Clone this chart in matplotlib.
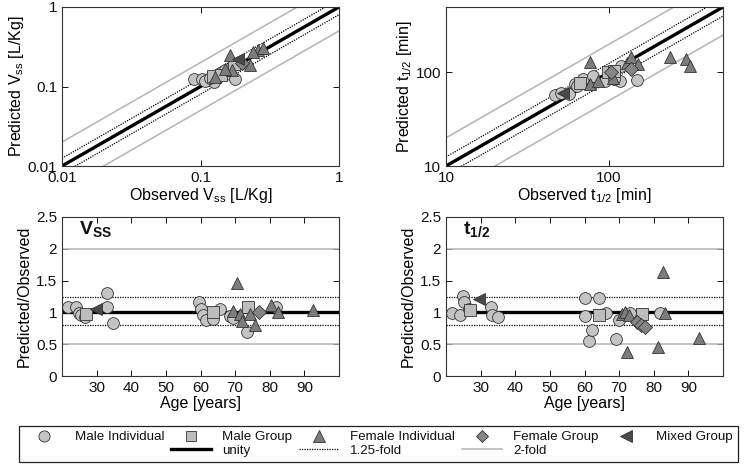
import numpy as np
import matplotlib.pyplot as plt
from matplotlib.lines import Line2D

plt.rcParams['font.family'] = ['Liberation Sans', 'DejaVu Sans']
plt.rcParams['mathtext.default'] = 'regular'
plt.rcParams['text.color'] = '#111111'

# ---- observed vs predicted, Vss [L/Kg] ----
vss_mi_obs = [0.090, 0.102, 0.114, 0.123, 0.134, 0.138, 0.163, 0.178, 0.125, 0.108, 0.118, 0.150]
vss_mi_pred = [0.123, 0.123, 0.120, 0.130, 0.132, 0.150, 0.145, 0.123, 0.115, 0.118, 0.127, 0.160]
vss_mg_obs = [0.123, 0.140, 0.175]
vss_mg_pred = [0.135, 0.140, 0.190]
vss_fi_obs = [0.128, 0.163, 0.168, 0.228, 0.261, 0.284, 0.240, 0.150]
vss_fi_pred = [0.133, 0.249, 0.161, 0.186, 0.288, 0.304, 0.270, 0.167]
vss_fg_obs = [0.198]
vss_fg_pred = [0.195]
vss_mx_obs = [0.187]
vss_mx_pred = [0.220]

# ---- observed vs predicted, t1/2 [min] ----
t12_mi_obs = [46.5, 51, 57, 62, 69, 94, 116, 119, 148, 64, 80, 108]
t12_mi_pred = [58, 61, 59, 75, 85, 81, 81, 118, 84, 72, 92, 85]
t12_mg_obs = [66, 98, 108]
t12_mg_pred = [78, 100, 104]
t12_fi_obs = [76, 76, 86, 106, 128, 137, 151, 235, 297, 312]
t12_fi_pred = [128, 75, 81, 88, 125, 145, 123, 145, 138, 118]
t12_fg_obs = [103, 137]
t12_fg_pred = [100, 108]
t12_mx_obs = [52]
t12_mx_pred = [61]

# ---- predicted/observed ratio vs age ----
vss_mi_age = [21.8, 23.9, 24.8, 25.6, 26.5, 32.9, 33.0, 34.8, 59.6, 60.0, 60.7, 61.6, 63.7, 65.7, 68.6, 69.5, 73.4, 81.9]
vss_mi_rat = [1.09, 1.08, 0.99, 0.96, 0.93, 1.31, 1.08, 0.83, 1.17, 1.05, 0.96, 0.88, 0.89, 1.06, 0.94, 0.91, 0.69, 1.09]
vss_mg_age = [26.9, 63.7, 73.6]
vss_mg_rat = [0.97, 1.00, 1.09]
vss_fi_age = [69.3, 70.5, 71.5, 71.9, 74.3, 75.6, 80.4, 82.4, 92.5]
vss_fi_rat = [1.02, 1.47, 0.97, 0.86, 0.97, 0.80, 1.12, 1.01, 1.04]
vss_fg_age = [76.8]
vss_fg_rat = [1.01]
vss_mx_age = [29.8]
vss_mx_rat = [1.05]

t12_mi_age = [21.8, 24.0, 25.0, 25.2, 26.5, 33.0, 33.2, 35.1, 60.0, 60.0, 61.2, 62.1, 64.1, 66.3, 69.1, 70.1, 73.0, 81.9]
t12_mi_rat = [0.99, 0.96, 1.26, 1.16, 1.05, 1.09, 0.96, 0.93, 1.22, 0.94, 0.55, 0.73, 1.22, 0.99, 0.58, 0.88, 0.99, 0.99]
t12_mg_age = [27.0, 64.1, 76.7]
t12_mg_rat = [1.03, 0.96, 0.97]
t12_fi_age = [70.8, 71.8, 72.8, 72.3, 81.2, 82.6, 83.2, 93.2]
t12_fi_rat = [0.98, 1.01, 0.96, 0.38, 0.46, 1.63, 0.99, 0.59]
t12_fg_age = [75.2, 76.2, 77.4]
t12_fg_rat = [0.85, 0.80, 0.77]
t12_mx_age = [29.6]
t12_mx_rat = [1.21]

groups = ['Male Individual', 'Male Group', 'Female Individual', 'Female Group', 'Mixed Group']
markers = ['o', 's', '^', 'D', '<']
fills = ['#c4c4c4', '#bdbdbd', '#7c7c7c', '#858585', '#4a4a4a']
sizes = [8.5, 8, 9, 7, 9]
folds = [1.0, 1.25, 2.0]
edge = '#333333'


def style(ax):
    ax.tick_params(direction='in', top=True, right=True, length=4, width=0.7,
                   labelsize=11, colors='#111111', which='major')
    ax.tick_params(which='minor', length=0)
    for s in ax.spines.values():
        s.set_linewidth(0.8)
        s.set_color('#333333')


def pts(ax, xs, ys):
    for i in range(5):
        ax.plot(xs[i], ys[i], linestyle='none', marker=markers[i], ms=sizes[i],
                mfc=fills[i], mec=edge, mew=0.6)


def fold_lines(ax, lo, hi):
    x = np.array([lo, hi])
    ax.plot(x, x * folds[2], color='#b4b4b4', lw=1.1)
    ax.plot(x, x / folds[2], color='#b4b4b4', lw=1.1)
    ax.plot(x, x * folds[1], color='black', lw=0.9, ls=(0, (1, 1)))
    ax.plot(x, x / folds[1], color='black', lw=0.9, ls=(0, (1, 1)))
    ax.plot(x, x * folds[0], color='black', lw=2.4)


def ratio_lines(ax):
    for v in [folds[2], 1 / folds[2]]:
        ax.axhline(v, color='#b4b4b4', lw=1.1)
    for v in [folds[1], 1 / folds[1]]:
        ax.axhline(v, color='black', lw=0.9, ls=(0, (1, 1)))
    ax.axhline(folds[0], color='black', lw=2.4)


fig = plt.figure(figsize=(7.5, 4.67), dpi=100)
W, H = 277 / 750, 159 / 467
ax1 = fig.add_axes([62 / 750, 1 - 166 / 467, W, H])
ax2 = fig.add_axes([446 / 750, 1 - 166 / 467, W, H])
ax3 = fig.add_axes([62 / 750, 1 - 376 / 467, W, H])
ax4 = fig.add_axes([446 / 750, 1 - 376 / 467, W, H])

# top left
fold_lines(ax1, 0.01, 1)
pts(ax1, [vss_mi_obs, vss_mg_obs, vss_fi_obs, vss_fg_obs, vss_mx_obs],
    [vss_mi_pred, vss_mg_pred, vss_fi_pred, vss_fg_pred, vss_mx_pred])
ax1.set_xscale('log')
ax1.set_yscale('log')
ax1.set_xlim(0.01, 1)
ax1.set_ylim(0.01, 1)
ax1.set_xticks([0.01, 0.1, 1], ['0.01', '0.1', '1'])
ax1.set_yticks([0.01, 0.1, 1], ['0.01', '0.1', '1'])
ax1.set_xlabel('Observed V$_{ss}$ [L/Kg]', fontsize=11.5, labelpad=1)
ax1.set_ylabel('Predicted V$_{ss}$ [L/Kg]', fontsize=11.5, labelpad=1)
style(ax1)

# top right
fold_lines(ax2, 10, 500)
pts(ax2, [t12_mi_obs, t12_mg_obs, t12_fi_obs, t12_fg_obs, t12_mx_obs],
    [t12_mi_pred, t12_mg_pred, t12_fi_pred, t12_fg_pred, t12_mx_pred])
ax2.set_xscale('log')
ax2.set_yscale('log')
ax2.set_xlim(10, 500)
ax2.set_ylim(10, 500)
ax2.set_xticks([10, 100], ['10', '100'])
ax2.set_yticks([10, 100], ['10', '100'])
ax2.set_xlabel('Observed t$_{1/2}$ [min]', fontsize=11.5, labelpad=1)
ax2.set_ylabel('Predicted t$_{1/2}$ [min]', fontsize=11.5, labelpad=1)
style(ax2)

# bottom panels
for ax, xs, ys, tag in [
        (ax3, [vss_mi_age, vss_mg_age, vss_fi_age, vss_fg_age, vss_mx_age],
         [vss_mi_rat, vss_mg_rat, vss_fi_rat, vss_fg_rat, vss_mx_rat], 'V$_{SS}$'),
        (ax4, [t12_mi_age, t12_mg_age, t12_fi_age, t12_fg_age, t12_mx_age],
         [t12_mi_rat, t12_mg_rat, t12_fi_rat, t12_fg_rat, t12_mx_rat], 't$_{1/2}$')]:
    ratio_lines(ax)
    pts(ax, xs, ys)
    ax.set_xlim(20, 100)
    ax.set_ylim(0, 2.5)
    ax.set_xticks(np.arange(30, 100, 10))
    ax.set_yticks([0, 0.5, 1, 1.5, 2, 2.5], ['0', '0.5', '1', '1.5', '2', '2.5'])
    ax.set_xlabel('Age [years]', fontsize=11.5, labelpad=1)
    ax.set_ylabel('Predicted/Observed', fontsize=11.5, labelpad=3)
    ax.text(0.06, 0.985, tag, transform=ax.transAxes, fontsize=14,
            fontweight='bold', va='top', ha='left')
    style(ax)

# legend
blank = Line2D([], [], linestyle='none')
mk = [Line2D([], [], linestyle='none', marker=markers[i], ms=sizes[i] - 0.5,
             mfc=fills[i], mec=edge, mew=0.6) for i in range(5)]
ln_unity = Line2D([], [], color='black', lw=2.4)
ln_125 = Line2D([], [], color='black', lw=0.9, ls=(0, (1, 1)))
ln_2 = Line2D([], [], color='#b4b4b4', lw=1.1)
handles = [mk[0], blank, mk[1], ln_unity, mk[2], ln_125, mk[3], ln_2, mk[4]]
labels = [groups[0], '', groups[1], 'unity', groups[2], '1.25-fold', groups[3], '2-fold', groups[4]]
leg = fig.legend(handles, labels, loc='center', ncol=5, mode='expand',
                 bbox_to_anchor=(12 / 750, 1 - 465 / 467, 733 / 750, 42 / 467),
                 fontsize=9.6, handlelength=3.0, handletextpad=0.8,
                 columnspacing=1.0, labelspacing=0.1, borderpad=0.4,
                 fancybox=False, framealpha=1, edgecolor='#222222')
leg.get_frame().set_linewidth(0.9)

fig.savefig('out.png', dpi=100)
